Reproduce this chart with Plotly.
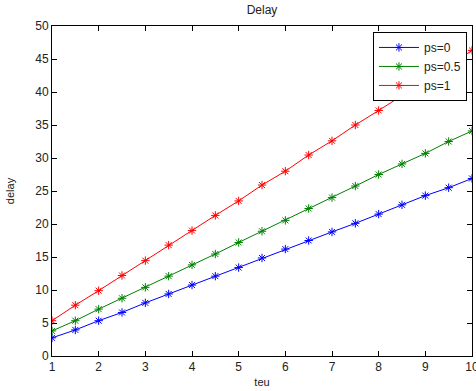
import plotly.graph_objects as go

teu = [1, 1.5, 2, 2.5, 3, 3.5, 4, 4.5, 5, 5.5, 6, 6.5, 7, 7.5, 8, 8.5, 9, 9.5, 10]
delay_ps0 = [2.75, 3.95, 5.35, 6.6, 8.05, 9.4, 10.75, 12.1, 13.4, 14.85, 16.2, 17.5,
             18.8, 20.1, 21.5, 22.9, 24.3, 25.5, 26.9]
delay_ps05 = [3.8, 5.35, 7.1, 8.75, 10.4, 12.1, 13.8, 15.45, 17.2, 18.9, 20.55, 22.35,
              24.0, 25.75, 27.5, 29.1, 30.7, 32.5, 34.1]
delay_ps1 = [5.35, 7.7, 9.9, 12.2, 14.45, 16.8, 19.0, 21.3, 23.5, 25.9, 28.0, 30.45,
             32.6, 35.0, 37.2, 39.4, 41.7, 44.0, 46.3]
series_names = ["ps=0", "ps=0.5", "ps=1"]
colors = ["#0000ff", "#008000", "#ff0000"]

fig = go.Figure()
for name, ys, c in zip(series_names, [delay_ps0, delay_ps05, delay_ps1], colors):
    fig.add_trace(go.Scatter(
        x=teu, y=ys, name=name, mode="lines+markers",
        line=dict(color=c, width=1),
        marker=dict(symbol="asterisk-open", size=7, color=c, line=dict(color=c, width=1)),
    ))

axis_common = dict(
    showline=True, linecolor="#000", linewidth=1, mirror="ticks",
    ticks="inside", ticklen=5, tickcolor="#000", showgrid=False, zeroline=False,
    ticklabeloverflow="allow", automargin=False,
    tickfont=dict(family="Liberation Sans, Arial", size=12, color="#222"),
)
fig.update_layout(
    width=476, height=391,
    margin=dict(l=52, r=4, t=26, b=35, autoexpand=False),
    paper_bgcolor="#fff", plot_bgcolor="#fff",
    title=dict(text="Delay", x=0.5, xref="paper", y=1 - 10 / 391, yref="container",
               xanchor="center", yanchor="middle",
               font=dict(family="Liberation Sans, Arial", size=12, color="#222")),
    xaxis=dict(range=[1, 10], tickvals=list(range(1, 11)), **axis_common,
               title=dict(text="teu", standoff=4,
                          font=dict(family="Liberation Sans, Arial", size=11, color="#222"))),
    yaxis=dict(range=[0, 50], tickvals=list(range(0, 51, 5)), **axis_common,
               title=dict(text="delay", standoff=18,
                          font=dict(family="Liberation Sans, Arial", size=11, color="#222"))),
    legend=dict(x=0.988, y=0.982, xanchor="right", yanchor="top",
                bgcolor="#fff", bordercolor="#000", borderwidth=1,
                font=dict(family="Liberation Sans, Arial", size=12, color="#222"),
                tracegroupgap=0, itemwidth=40),
    showlegend=True,
)
fig.write_html("out.html")
